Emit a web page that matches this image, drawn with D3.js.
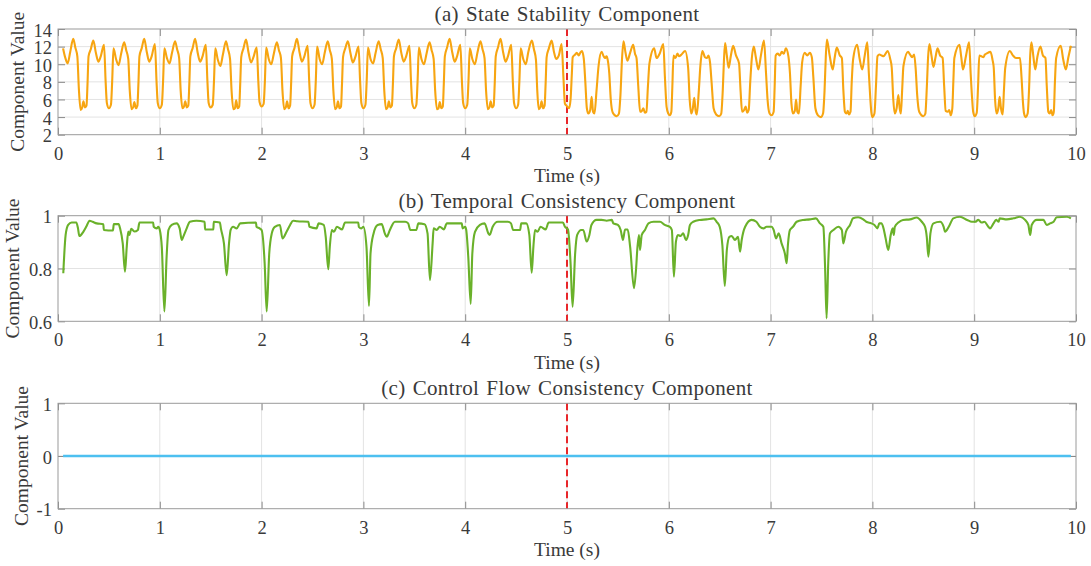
<!DOCTYPE html>
<html><head><meta charset="utf-8">
<script src="https://cdn.jsdelivr.net/npm/d3@7"></script>
<style>
body{margin:0;background:#fff}
svg text{font-family:"Liberation Serif","Times New Roman",serif;fill:#3a3a3a}
</style>
</head><body>
<svg id="chart" width="1091" height="566"></svg>
<script>
// ---------------- data ----------------
const timeTicks = [0,1,2,3,4,5,6,7,8,9,10];
const stateTicks = [2,4,6,8,10,12,14];
const temporalTicks = [0.6,0.8,1];
const controlTicks = [-1,0,1];
const panelTitles = ["(a) State Stability Component","(b) Temporal Consistency Component","(c) Control Flow Consistency Component"];
const yLabel = "Component Value";
const xLabel = "Time (s)";
const changeTime = 5;

const stateStability = [
[0.05,11.8],[0.07,10.8],[0.095,10.1],[0.12,11.4],[0.15,12.9],[0.17,11.9],[0.19,10.9],[0.205,7.2],[0.222,4.8],[0.238,5.1],[0.25,5.8],[0.265,5.1],[0.28,5.3],[0.29,7.8],[0.3,10.9],[0.322,11.7],[0.347,12.7],[0.372,11.3],[0.396,10.3],[0.42,10.9],[0.452,12.2],[0.468,8.0],[0.48,5.6],[0.5,5.0],[0.52,5.4],[0.532,8.0],
[0.545,11.8],[0.57,10.6],[0.595,9.9],[0.62,11.2],[0.65,12.5],[0.67,11.6],[0.69,10.6],[0.705,7.0],[0.722,4.9],[0.738,5.1],[0.75,5.7],[0.765,5.0],[0.78,5.3],[0.79,7.8],[0.8,10.9],[0.822,11.8],[0.847,12.9],[0.872,11.4],[0.896,10.3],[0.92,10.9],[0.952,12.3],[0.968,8.0],[0.98,5.6],[1.0,5.0],[1.02,5.4],[1.032,8.0],
[1.045,11.8],[1.07,10.7],[1.095,10.1],[1.12,11.3],[1.15,12.6],[1.17,11.7],[1.19,10.7],[1.205,7.0],[1.222,5.0],[1.238,5.2],[1.25,5.8],[1.265,5.1],[1.28,5.3],[1.29,7.8],[1.3,10.9],[1.322,11.8],[1.347,12.9],[1.372,11.3],[1.396,10.3],[1.42,10.9],[1.452,12.2],[1.468,8.0],[1.48,5.6],[1.5,5.1],[1.52,5.4],[1.532,8.0],
[1.545,11.8],[1.57,10.5],[1.595,9.8],[1.62,11.1],[1.65,12.6],[1.67,11.7],[1.69,10.6],[1.705,7.0],[1.722,4.9],[1.738,5.0],[1.75,5.9],[1.765,5.0],[1.78,5.2],[1.79,7.8],[1.8,10.8],[1.822,11.8],[1.847,12.8],[1.872,11.3],[1.896,10.2],[1.92,10.8],[1.952,11.9],[1.968,8.0],[1.98,5.7],[2.0,5.2],[2.02,5.5],[2.032,8.0],
[2.045,11.9],[2.07,10.6],[2.095,10.0],[2.12,11.2],[2.15,12.5],[2.17,11.6],[2.19,10.7],[2.205,7.0],[2.222,4.9],[2.238,5.1],[2.25,5.8],[2.265,5.0],[2.28,5.3],[2.29,7.8],[2.3,10.9],[2.322,11.8],[2.347,12.9],[2.372,11.4],[2.396,10.3],[2.42,10.9],[2.452,12.1],[2.468,8.0],[2.48,5.6],[2.5,5.0],[2.52,5.4],[2.532,8.0],
[2.545,12.0],[2.57,10.6],[2.595,10.0],[2.62,11.3],[2.65,12.6],[2.67,11.6],[2.69,10.6],[2.705,7.0],[2.722,4.9],[2.738,5.1],[2.75,5.8],[2.765,5.0],[2.78,5.2],[2.79,7.8],[2.8,10.8],[2.822,11.8],[2.847,12.6],[2.872,11.3],[2.896,10.2],[2.92,10.8],[2.952,12.0],[2.968,8.0],[2.98,5.6],[3.0,5.0],[3.02,5.4],[3.032,8.0],
[3.045,11.9],[3.07,10.6],[3.095,10.1],[3.12,11.3],[3.15,12.6],[3.17,11.7],[3.19,10.7],[3.205,7.0],[3.222,4.9],[3.238,5.1],[3.25,5.8],[3.265,5.1],[3.28,5.3],[3.29,7.8],[3.3,10.9],[3.322,11.8],[3.347,12.8],[3.372,11.3],[3.396,10.3],[3.42,10.9],[3.452,12.1],[3.468,8.0],[3.48,5.6],[3.5,5.0],[3.52,5.4],[3.532,8.0],
[3.545,11.9],[3.57,10.6],[3.595,10.0],[3.62,11.2],[3.65,12.5],[3.67,11.6],[3.69,10.6],[3.705,7.0],[3.722,4.9],[3.738,5.0],[3.75,5.7],[3.765,5.0],[3.78,5.2],[3.79,7.8],[3.8,10.9],[3.822,11.9],[3.847,12.9],[3.872,11.4],[3.896,10.3],[3.92,10.9],[3.952,12.2],[3.968,8.0],[3.98,5.6],[4.0,5.0],[4.02,5.4],[4.032,8.0],
[4.045,11.8],[4.07,10.6],[4.095,10.0],[4.12,11.3],[4.15,12.6],[4.17,11.7],[4.19,10.7],[4.205,7.0],[4.222,4.9],[4.238,5.1],[4.25,5.8],[4.265,5.1],[4.28,5.3],[4.29,7.8],[4.3,10.9],[4.322,11.9],[4.347,12.9],[4.372,11.4],[4.396,10.3],[4.42,10.9],[4.452,12.2],[4.468,8.0],[4.48,5.6],[4.5,5.0],[4.52,5.4],[4.532,8.0],
[4.545,11.8],[4.57,10.6],[4.595,10.0],[4.62,11.4],[4.655,12.7],[4.675,11.7],[4.695,10.5],[4.708,7.0],[4.722,4.9],[4.738,5.1],[4.75,5.8],[4.765,5.0],[4.78,5.3],[4.79,7.8],[4.8,10.8],[4.822,11.8],[4.849,12.7],[4.872,11.4],[4.893,10.6],[4.92,11.0],[4.947,12.3],[4.965,8.5],[4.98,5.5],[4.995,5.3],[5.02,5.0],[5.035,6.0],[5.048,9.0],
[5.056,10.8],[5.08,11.1],[5.095,11.3],[5.115,11.0],[5.13,11.3],[5.147,11.5],[5.165,10.6],[5.18,8.0],[5.195,5.0],[5.21,4.4],[5.228,4.8],[5.242,6.3],[5.256,4.6],[5.27,4.4],[5.29,7.0],[5.31,9.8],[5.34,11.4],[5.36,10.9],[5.375,10.7],[5.388,10.9],[5.4,10.5],[5.415,9.0],[5.43,6.0],[5.45,4.5],[5.488,4.1],[5.51,4.4],[5.525,6.5],[5.54,10.5],[5.555,12.6],[5.575,11.3],[5.593,10.4],[5.62,11.3],[5.65,12.2],[5.668,11.2],[5.683,10.7],[5.7,7.5],[5.718,4.6],[5.735,4.7],[5.75,5.0],[5.765,4.5],[5.78,4.6],[5.795,7.5],[5.81,10.1],[5.856,11.8],[5.88,10.7],[5.91,11.2],[5.946,12.3],[5.962,8.5],[5.978,5.2],[5.995,4.4],[6.01,4.2],[6.025,4.6],[6.035,7.5],
[6.046,11.0],[6.065,10.7],[6.085,11.2],[6.1,10.9],[6.125,11.1],[6.16,11.5],[6.19,9.6],[6.205,6.0],[6.22,4.4],[6.235,4.9],[6.25,6.2],[6.262,4.8],[6.275,4.3],[6.295,7.0],[6.31,9.8],[6.33,11.5],[6.355,10.8],[6.375,10.7],[6.39,11.0],[6.405,10.2],[6.42,8.0],[6.44,5.0],[6.465,4.3],[6.495,4.1],[6.515,4.4],[6.53,7.0],[6.542,10.5],[6.553,12.4],[6.57,11.0],[6.588,9.6],[6.61,11.0],[6.632,12.1],[6.66,11.0],[6.69,10.1],[6.705,7.0],[6.72,4.6],[6.74,4.8],[6.755,5.2],[6.77,4.5],[6.785,4.8],[6.8,8.0],[6.815,10.6],[6.835,12.0],[6.855,10.8],[6.88,9.4],[6.905,11.0],[6.935,12.7],[6.955,9.0],[6.97,6.0],[6.99,4.4],[7.01,4.2],[7.03,4.6],[7.04,7.5],
[7.05,11.0],[7.07,11.2],[7.09,11.0],[7.11,11.4],[7.13,11.2],[7.15,11.8],[7.175,10.9],[7.19,9.0],[7.205,5.5],[7.22,4.4],[7.238,4.7],[7.25,6.0],[7.263,4.6],[7.278,4.4],[7.295,7.5],[7.31,10.2],[7.335,11.3],[7.36,11.0],[7.385,11.3],[7.405,10.8],[7.42,8.5],[7.44,5.0],[7.465,4.2],[7.495,4.0],[7.515,4.4],[7.53,7.0],[7.542,10.8],[7.553,12.8],[7.58,11.0],[7.61,9.4],[7.63,10.8],[7.65,11.9],[7.68,11.0],[7.7,10.7],[7.715,7.0],[7.73,4.6],[7.745,4.4],[7.758,4.7],[7.77,4.3],[7.785,4.6],[7.797,8.0],[7.81,10.5],[7.85,12.2],[7.875,10.6],[7.9,9.4],[7.925,11.0],[7.95,12.5],[7.965,9.0],[7.98,6.0],[7.99,4.5],[8.0,4.0],[8.02,4.4],[8.035,7.5],
[8.05,10.9],[8.07,11.1],[8.09,11.0],[8.11,10.9],[8.13,11.2],[8.15,11.5],[8.175,10.6],[8.19,9.6],[8.205,6.0],[8.22,4.4],[8.238,5.0],[8.255,6.5],[8.268,5.0],[8.28,4.4],[8.292,7.0],[8.305,9.8],[8.35,11.4],[8.37,11.1],[8.39,10.8],[8.41,11.1],[8.425,9.5],[8.44,6.5],[8.46,4.6],[8.5,4.1],[8.52,4.4],[8.535,7.5],[8.547,10.8],[8.56,12.3],[8.58,11.0],[8.6,9.7],[8.62,10.8],[8.64,11.8],[8.665,11.0],[8.69,10.7],[8.705,7.5],[8.72,4.7],[8.74,4.6],[8.755,4.8],[8.77,4.2],[8.785,5.0],[8.795,8.0],[8.805,10.7],[8.855,12.2],[8.873,10.8],[8.89,9.4],[8.92,11.0],[8.95,12.5],[8.965,9.0],[8.98,6.0],[8.99,4.6],[9.005,4.1],[9.025,4.5],[9.038,7.5],
[9.05,11.0],[9.07,10.9],[9.09,10.8],[9.105,11.1],[9.12,11.2],[9.16,11.4],[9.18,10.5],[9.192,9.6],[9.205,6.0],[9.22,4.4],[9.237,5.0],[9.25,6.3],[9.263,5.0],[9.28,4.3],[9.292,7.0],[9.305,9.6],[9.35,11.5],[9.38,11.0],[9.41,10.7],[9.45,10.7],[9.465,8.5],[9.48,5.5],[9.49,4.4],[9.505,4.0],[9.525,4.4],[9.54,7.5],[9.55,11.0],[9.562,12.5],[9.58,11.0],[9.6,9.4],[9.62,10.8],[9.65,12.0],[9.675,11.0],[9.7,10.7],[9.713,7.5],[9.728,4.6],[9.742,4.4],[9.755,4.8],[9.77,4.2],[9.782,4.6],[9.793,8.0],[9.805,10.7],[9.85,12.1],[9.875,10.5],[9.9,9.4],[9.925,10.8],[9.95,12.1]
];

const temporalConsistency = [
[0.052,0.782],[0.075,0.927],[0.10,0.965],[0.134,0.974],[0.18,0.974],[0.195,0.955],[0.21,0.923],[0.25,0.94],[0.28,0.96],[0.31,0.981],[0.34,0.977],[0.38,0.971],[0.445,0.968],[0.45,0.946],[0.54,0.944],[0.548,0.968],[0.595,0.968],[0.61,0.952],[0.636,0.895],[0.658,0.788],[0.675,0.88],[0.69,0.94],[0.70,0.927],[0.72,0.95],[0.75,0.94],[0.785,0.946],[0.80,0.974],[0.935,0.974],[0.94,0.958],[0.97,0.952],[0.985,0.958],[1.0,0.946],[1.02,0.88],[1.045,0.637],[1.067,0.845],[1.085,0.946],[1.117,0.965],[1.165,0.971],[1.195,0.952],[1.215,0.908],[1.23,0.92],[1.26,0.948],[1.296,0.977],[1.36,0.981],[1.44,0.977],[1.445,0.948],[1.526,0.948],[1.53,0.977],[1.59,0.974],[1.60,0.952],[1.63,0.895],[1.657,0.775],[1.68,0.895],[1.696,0.946],[1.72,0.958],[1.755,0.952],[1.79,0.971],[1.945,0.974],[1.95,0.958],[1.98,0.952],[2.0,0.946],[2.03,0.82],[2.05,0.637],[2.075,0.857],[2.1,0.933],[2.13,0.958],[2.18,0.965],[2.205,0.914],[2.245,0.939],[2.28,0.965],[2.31,0.981],[2.35,0.979],[2.46,0.977],[2.47,0.958],[2.54,0.952],[2.56,0.971],[2.61,0.965],[2.63,0.92],[2.655,0.797],[2.67,0.883],[2.69,0.946],[2.71,0.939],[2.74,0.958],[2.79,0.948],[2.82,0.974],[2.95,0.974],[2.955,0.958],[2.98,0.952],[3.0,0.958],[3.03,0.883],[3.055,0.658],[3.07,0.857],[3.1,0.933],[3.14,0.965],[3.18,0.968],[3.21,0.933],[3.23,0.92],[3.26,0.946],[3.31,0.977],[3.41,0.977],[3.44,0.971],[3.46,0.946],[3.52,0.946],[3.54,0.971],[3.6,0.968],[3.63,0.933],[3.654,0.756],[3.68,0.895],[3.69,0.952],[3.72,0.946],[3.75,0.958],[3.79,0.948],[3.82,0.971],[3.966,0.971],[3.975,0.952],[4.0,0.958],[4.01,0.946],[4.03,0.845],[4.054,0.666],[4.07,0.857],[4.096,0.939],[4.145,0.965],[4.19,0.971],[4.227,0.933],[4.24,0.927],[4.27,0.958],[4.32,0.977],[4.42,0.977],[4.45,0.971],[4.47,0.946],[4.54,0.946],[4.55,0.971],[4.6,0.971],[4.63,0.927],[4.653,0.784],[4.67,0.883],[4.686,0.946],[4.71,0.939],[4.74,0.958],[4.79,0.948],[4.82,0.974],[4.96,0.974],[4.98,0.958],[5.01,0.948],[5.035,0.82],[5.055,0.655],[5.08,0.857],[5.1,0.927],[5.14,0.946],[5.16,0.946],[5.193,0.902],[5.22,0.927],[5.24,0.965],[5.29,0.984],[5.34,0.984],[5.39,0.981],[5.44,0.984],[5.455,0.971],[5.5,0.965],[5.527,0.946],[5.55,0.908],[5.57,0.948],[5.596,0.948],[5.62,0.883],[5.658,0.725],[5.68,0.807],[5.69,0.87],[5.707,0.927],[5.717,0.87],[5.734,0.927],[5.766,0.946],[5.8,0.971],[5.85,0.977],[5.914,0.977],[5.96,0.965],[6.01,0.958],[6.03,0.946],[6.05,0.769],[6.07,0.902],[6.09,0.927],[6.116,0.923],[6.14,0.933],[6.17,0.908],[6.19,0.927],[6.208,0.965],[6.24,0.977],[6.307,0.984],[6.37,0.986],[6.44,0.99],[6.47,0.977],[6.5,0.958],[6.526,0.889],[6.55,0.734],[6.57,0.87],[6.595,0.92],[6.618,0.923],[6.65,0.908],[6.68,0.92],[6.7,0.864],[6.716,0.908],[6.75,0.958],[6.814,0.984],[6.86,0.977],[6.895,0.958],[6.93,0.952],[6.96,0.958],[7.01,0.958],[7.03,0.946],[7.053,0.914],[7.08,0.933],[7.108,0.895],[7.14,0.857],[7.158,0.82],[7.17,0.889],[7.19,0.946],[7.22,0.958],[7.256,0.977],[7.32,0.984],[7.386,0.986],[7.445,0.99],[7.485,0.971],[7.518,0.958],[7.535,0.807],[7.55,0.611],[7.566,0.82],[7.583,0.933],[7.617,0.946],[7.665,0.958],[7.7,0.946],[7.714,0.895],[7.74,0.939],[7.78,0.965],[7.81,0.99],[7.86,0.994],[7.91,0.986],[7.94,0.977],[7.99,0.971],[8.02,0.965],[8.05,0.952],[8.068,0.971],[8.09,0.971],[8.113,0.946],[8.13,0.914],[8.156,0.87],[8.18,0.927],[8.2,0.952],[8.21,0.927],[8.22,0.958],[8.255,0.974],[8.3,0.984],[8.37,0.986],[8.435,0.993],[8.485,0.977],[8.517,0.958],[8.534,0.92],[8.55,0.845],[8.57,0.933],[8.6,0.971],[8.665,0.977],[8.7,0.958],[8.714,0.939],[8.75,0.958],[8.795,0.99],[8.86,0.996],[8.93,0.984],[8.977,0.977],[9.01,0.977],[9.04,0.984],[9.073,0.974],[9.1,0.977],[9.139,0.958],[9.155,0.952],[9.19,0.971],[9.215,0.984],[9.24,0.977],[9.25,0.99],[9.32,0.986],[9.385,0.99],[9.45,0.996],[9.5,0.984],[9.532,0.965],[9.55,0.927],[9.565,0.965],[9.614,0.984],[9.68,0.984],[9.712,0.965],[9.745,0.971],[9.78,0.977],[9.81,0.994],[9.91,0.996],[9.95,0.99]
];

const controlFlow = [[0.05,0],[1,0],[2,0],[3,0],[4,0],[5,0],[6,0],[7,0],[8,0],[9,0],[9.95,0]];

// ---------------- layout ----------------
const svg = d3.select("#chart");
const W = 1091, H = 566;
svg.append("rect").attr("width",W).attr("height",H).attr("fill","#ffffff");
const left = 58, right = 1076;
const x = d3.scaleLinear().domain([0,10]).range([left,right]);

const panels = [
  {data: stateStability, domain:[2,14], ticks: stateTicks, color:"#F7A511", top:29, bottom:134.7, title:panelTitles[0], ylabX:24, titleY:21, xlabY:182, width:2.1},
  {data: temporalConsistency, domain:[0.6,1], ticks: temporalTicks, color:"#6AB12A", top:215.7, bottom:321.3, title:panelTitles[1], ylabX:19, titleY:208, xlabY:369, width:2.1},
  {data: controlFlow, domain:[-1,1], ticks: controlTicks, color:"#4DC0F0", top:403.3, bottom:508.7, title:panelTitles[2], ylabX:28, titleY:395, xlabY:556, width:2.6}
];

panels.forEach(p => {
  const y = d3.scaleLinear().domain(p.domain).range([p.bottom, p.top]);
  const g = svg.append("g");
  g.append("rect").attr("x",left).attr("y",p.top).attr("width",right-left).attr("height",p.bottom-p.top).attr("fill","#fff");
  // grid
  g.append("g").selectAll("line").data(timeTicks.slice(1,-1)).join("line")
    .attr("x1",d=>x(d)).attr("x2",d=>x(d)).attr("y1",p.top).attr("y2",p.bottom)
    .attr("stroke","#e3e3e3").attr("stroke-width",1);
  g.append("g").selectAll("line").data(p.ticks.slice(1,-1)).join("line")
    .attr("x1",left).attr("x2",right).attr("y1",d=>y(d)).attr("y2",d=>y(d))
    .attr("stroke","#e3e3e3").attr("stroke-width",1);

  // axes (inward ticks)
  const ax = g.append("g").attr("transform",`translate(0,${p.bottom})`)
    .call(d3.axisBottom(x).tickValues(timeTicks).tickSize(-7).tickPadding(12).tickFormat(d3.format("d")));
  const axTop = g.append("g").attr("transform",`translate(0,${p.top})`)
    .call(d3.axisTop(x).tickValues(timeTicks).tickSize(-7).tickFormat(""));
  const ay = g.append("g").attr("transform",`translate(${left},0)`)
    .call(d3.axisLeft(y).tickValues(p.ticks).tickSize(-7).tickPadding(6).tickFormat(d=>String(d)));
  const ayR = g.append("g").attr("transform",`translate(${right},0)`)
    .call(d3.axisRight(y).tickValues(p.ticks).tickSize(-7).tickFormat(""));
  [ax,axTop,ay,ayR].forEach(a=>{
    a.select(".domain").remove();
    a.selectAll(".tick line").attr("stroke","#8a8a8a").attr("stroke-width",1);
    a.selectAll("text").attr("font-family",null).attr("font-size",null)
      .style("font-size","18.5px").attr("fill","#3a3a3a");
  });
  ay.selectAll("text").attr("dy","0.38em");

  // change marker
  g.append("line").attr("x1",x(changeTime)).attr("x2",x(changeTime)).attr("y1",p.top).attr("y2",p.bottom)
    .attr("stroke","#E8262A").attr("stroke-width",2).attr("stroke-dasharray","7,4");

  // series
  const line = d3.line().x(d=>x(d[0])).y(d=>y(d[1])).curve(d3.curveMonotoneX);
  g.append("path").datum(p.data).attr("d",line).attr("fill","none")
    .attr("stroke",p.color).attr("stroke-width",p.width).attr("stroke-linejoin","round");

  // frame
  g.append("rect").attr("x",left).attr("y",p.top).attr("width",right-left).attr("height",p.bottom-p.top)
    .attr("fill","none").attr("stroke","#9a9a9a").attr("stroke-width",1);

  // title and labels
  g.append("text").attr("x",(left+right)/2).attr("y",p.titleY).attr("text-anchor","middle")
    .style("font-size","21px").style("letter-spacing","0.35px").style("word-spacing","1.5px").text(p.title);
  g.append("text").attr("x",(left+right)/2).attr("y",p.xlabY).attr("text-anchor","middle")
    .style("font-size","19.5px").text(xLabel);
  g.append("text").attr("transform",`translate(${p.ylabX},${(p.top+p.bottom)/2}) rotate(-90)`)
    .attr("text-anchor","middle").style("font-size","19.5px").text(yLabel);
});
</script>
</body></html>
